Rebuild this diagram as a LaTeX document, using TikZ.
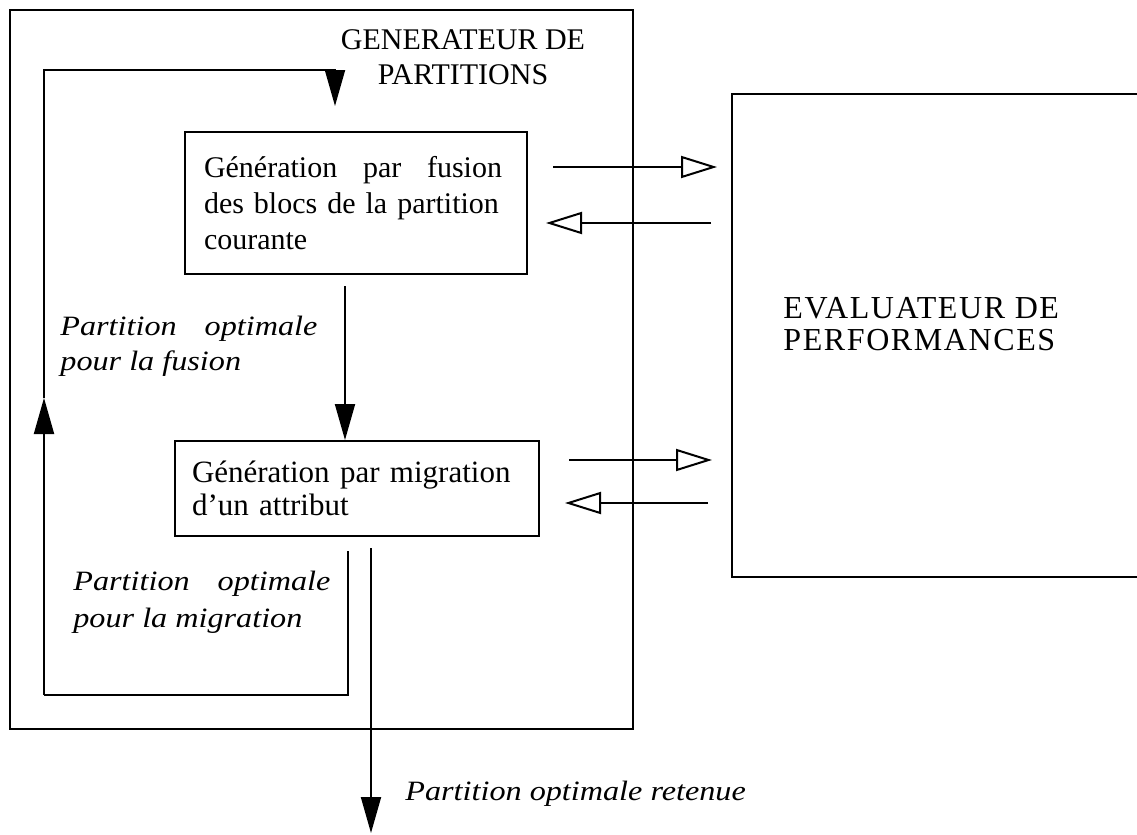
\documentclass[tikz,border=0pt]{standalone}
\usepackage{fontspec}
\setmainfont{Liberation Serif}
\newfontfamily\notefont[FakeStretch=1.15]{Liberation Serif}
\newfontfamily\evalfont[LetterSpace=5]{Liberation Serif}
\usetikzlibrary{arrows.meta,calc}

\tikzset{
  bloc/.style={draw, line width=1pt, align=left},
  flow/.style={line width=1pt, -{Triangle[length=18pt,width=10pt]}},
  echange/.style={line width=1pt, -{Triangle[open,length=18pt,width=11pt]}},
  note/.style={font=\notefont\itshape\fontsize{14}{17.5}\selectfont, align=left, inner sep=0pt},
  titre/.style={font=\fontsize{15}{17.5}\selectfont, align=center, inner sep=0pt},
}

\begin{document}
\begin{tikzpicture}[x=0.5pt, y=-0.5pt]
    \useasboundingbox (0,0) rectangle (1137,835);

    % generator frame with its title
    \node[draw, line width=1pt, minimum width=311.5pt, minimum height=359.5pt] (gen) at (321.5,369.5) {};
    \node[titre, anchor=base] (gentitre) at (463,84) {GENERATEUR DE\\PARTITIONS};

    % the two generation steps
    \node[bloc, text width=152pt, minimum width=171pt, minimum height=71pt,
          font=\fontsize{15}{18}\selectfont] (fus) at (356,203)
        {\hbox to 149pt{Génération\hfill par\hfill fusion}\\des blocs de la partition\\courante};
    \node[bloc, text width=165pt, minimum width=182pt, minimum height=47.5pt,
          font=\fontsize{15.5}{16.5}\selectfont] (mig) at (357,488.5)
        {Génération par migration\\d’un attribut};

    % evaluator, its right side runs off the page
    \node[draw, line width=1pt, minimum width=209pt, minimum height=241.5pt] (eval) at (941,335.5) {};
    \node[align=left, inner sep=0pt, anchor=base west, font=\evalfont\fontsize{16}{16}\selectfont]
        (evaltexte) at (783,350) {EVALUATEUR DE\\PERFORMANCES};

    % exchanges with the evaluator
    \coordinate (fusA) at (553,167);  \coordinate (evalA) at (717,167);
    \coordinate (evalB) at (711,223); \coordinate (fusB) at (546,223);
    \coordinate (migA) at (569,460);  \coordinate (evalC) at (712,460);
    \coordinate (evalD) at (708,503); \coordinate (migB) at (565,503);
    \draw[echange] (fusA) -- (evalA);
    \draw[echange] (evalB) -- (fusB);
    \draw[echange] (migA) -- (evalC);
    \draw[echange] (evalD) -- (migB);

    % fusion result goes down to migration
    \draw[flow] ($(fus.south)+(-11,11)$) -- ($(mig.north)+(-12,0)$);

    % loop back to the top
    \coordinate (bas) at (44,695);
    \coordinate (milieu) at (44,398);
    \coordinate (haut) at (44,70);
    \draw[line width=1pt] ($(mig.south)+(-9,14)$) |- (bas);
    \draw[flow] (bas) -- (milieu);
    \draw[flow] (milieu) -- (haut) -| ($(fus.north)+(-21,-25)$);

    % final result
    \coordinate (sortie) at (371,833);
    \draw[flow] ($(mig.south)+(14,11)$) -- (sortie);

    % labels on the paths
    \node[note, anchor=base west] (lfus) at (60,370)
        {\hbox to 128.5pt{Partition\hfill optimale}\\pour la fusion};
    \node[note, anchor=base west, font=\notefont\itshape\fontsize{14}{18.5}\selectfont] (lmig) at (73,627)
        {\hbox to 128.5pt{Partition\hfill optimale}\\pour la migration};
    \node[note, anchor=base west] (lret) at (405,800) {Partition optimale retenue};

\end{tikzpicture}
\end{document}
